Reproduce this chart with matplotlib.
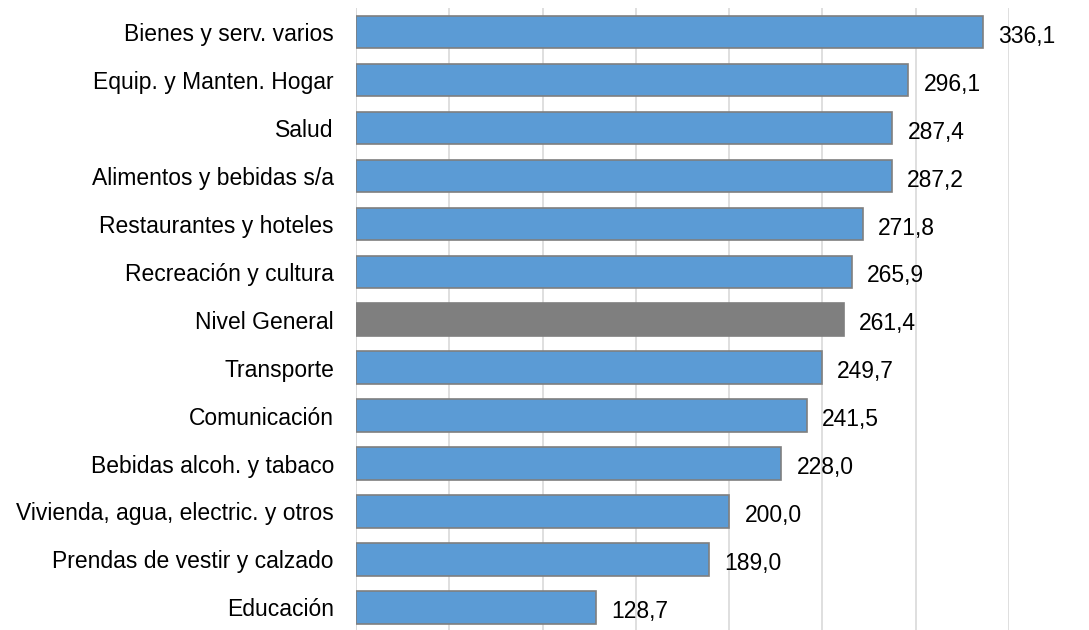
import matplotlib.pyplot as plt

categories = ['Bienes y serv. varios', 'Equip. y Manten. Hogar', 'Salud',
              'Alimentos y bebidas s/a', 'Restaurantes y hoteles',
              'Recreación y cultura', 'Nivel General', 'Transporte',
              'Comunicación', 'Bebidas alcoh. y tabaco',
              'Vivienda, agua, electric. y otros', 'Prendas de vestir y calzado',
              'Educación']
values = [336.1, 296.1, 287.4, 287.2, 271.8, 265.9, 261.4, 249.7, 241.5,
          228.0, 200.0, 189.0, 128.7]
highlight = 'Nivel General'

plt.rcParams['font.family'] = ['Liberation Sans', 'DejaVu Sans']

fig = plt.figure(figsize=(10.89, 6.3), dpi=100)
ax = fig.add_axes([0.327, -0.002, 0.5995, 0.989])

ypos = list(range(len(categories)))
colors = ['#7F7F7F' if c == highlight else '#5B9BD5' for c in categories]
ax.barh(ypos, values, height=0.68, color=colors, edgecolor='#7F7F7F',
        linewidth=1.2, zorder=3)

for y, v in zip(ypos, values):
    ax.annotate(f'{v:.1f}'.replace('.', ','), (v, y), xytext=(11, -3),
                textcoords='offset points', va='center', ha='left',
                fontsize=16.5, color='black')

ax.set_xlim(0, 350)
ax.set_ylim(len(categories) - 0.5, -0.5)
ax.set_xticks(range(0, 351, 50))
ax.set_xticklabels([])
ax.set_yticks(ypos)
ax.set_yticklabels(categories, fontsize=16.5)
ax.tick_params(axis='both', length=0)
ax.tick_params(axis='y', pad=16)
ax.grid(axis='x', color='#D9D9D9', linewidth=1.2, zorder=0)
for s in ax.spines.values():
    s.set_visible(False)
ax.axvline(0, color='#D9D9D9', linewidth=1.2, zorder=1)

fig.savefig('out.png', dpi=100)
